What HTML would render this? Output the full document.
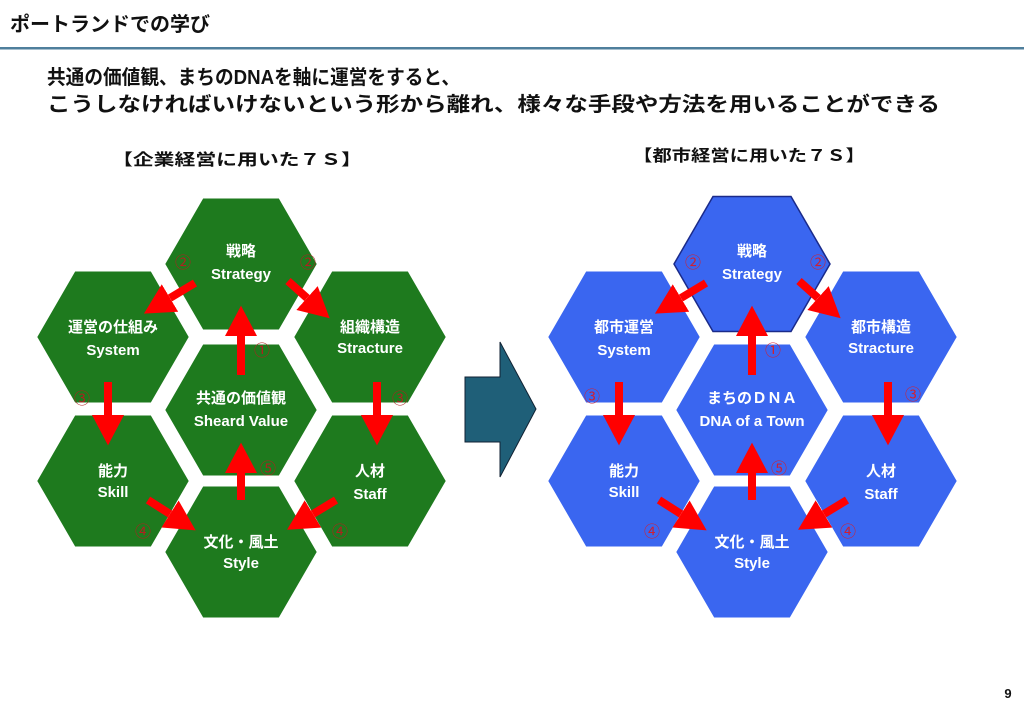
<!DOCTYPE html>
<html><head><meta charset="utf-8"><style>
html,body{margin:0;padding:0;background:#fff;}
svg{display:block;font-family:"Liberation Sans","Noto Sans CJK JP",sans-serif;}
</style></head><body>
<svg width="1024" height="709" viewBox="0 0 1024 709" xmlns="http://www.w3.org/2000/svg">
<defs>
<marker id="ah" markerWidth="4" markerHeight="4" refX="0" refY="2" orient="auto" markerUnits="strokeWidth">
<path d="M0,0 L3.8,2 L0,4 z" fill="#ff0000"/></marker>
<polygon id="hx" points="-78,0 -39,-67.5 39,-67.5 78,0 39,67.5 -39,67.5"/>
</defs>
<text x="10" y="31" font-size="20" font-weight="bold" fill="#111">ポートランドでの学び</text>
<rect x="0" y="47" width="1024" height="2.5" fill="#4f7f9c"/>
<text x="47" y="84" font-size="20" font-weight="bold" fill="#111" textLength="413" lengthAdjust="spacingAndGlyphs">共通の価値観、まちのDNAを軸に運営をすると、</text>
<text x="47" y="111" font-size="20" font-weight="bold" fill="#111" textLength="893" lengthAdjust="spacingAndGlyphs">こうしなければいけないという形から離れ、様々な手段や方法を用いることができる</text>
<text x="112" y="165" font-size="16" font-weight="bold" fill="#111" textLength="250" lengthAdjust="spacingAndGlyphs">【企業経営に用いた７Ｓ】</text>
<text x="633" y="161" font-size="16" font-weight="bold" fill="#111" textLength="232" lengthAdjust="spacingAndGlyphs">【都市経営に用いた７Ｓ】</text>

<polygon points="465,377 500,377 500,342 536,409 500,477 500,442 465,442" fill="#1f5f78" stroke="#123" stroke-width="1"/>

<g id="left">
<g fill="#1e7a1e" stroke="#fff" stroke-width="4">
<use href="#hx" x="241" y="264"/>
<use href="#hx" x="113" y="337"/>
<use href="#hx" x="370" y="337"/>
<use href="#hx" x="241" y="410"/>
<use href="#hx" x="113" y="481"/>
<use href="#hx" x="370" y="481"/>
<use href="#hx" x="241" y="552"/>
</g>
<g fill="#fff" font-size="15" font-weight="bold" text-anchor="middle">
<text x="241" y="256">戦略</text><text x="241" y="279">Strategy</text>
<text x="113" y="332">運営の仕組み</text><text x="113" y="355">System</text>
<text x="370" y="332">組織構造</text><text x="370" y="353">Stracture</text>
<text x="241" y="403">共通の価値観</text><text x="241" y="426">Sheard Value</text>
<text x="113" y="476">能力</text><text x="113" y="497">Skill</text>
<text x="370" y="476">人材</text><text x="370" y="499">Staff</text>
<text x="241" y="547">文化・風土</text><text x="241" y="568">Style</text>
</g>
<g stroke="#ff0000" stroke-width="8" marker-end="url(#ah)">
<line x1="241" y1="375" x2="241" y2="336"/>
<line x1="195" y1="283" x2="170" y2="298"/>
<line x1="288" y1="281" x2="307" y2="298"/>
<line x1="108" y1="382" x2="108" y2="415"/>
<line x1="377" y1="382" x2="377" y2="415"/>
<line x1="148" y1="500" x2="170" y2="514"/>
<line x1="336" y1="500" x2="313" y2="514"/>
<line x1="241" y1="500" x2="241" y2="473"/>
</g>
<g fill="#b02020" font-size="16" text-anchor="middle">
<text x="183" y="268">②</text><text x="308" y="268">②</text>
<text x="262" y="356">①</text>
<text x="82" y="404">③</text><text x="400" y="404">③</text>
<text x="143" y="537">④</text><text x="340" y="537">④</text>
<text x="268" y="474">⑤</text>
</g>
</g>

<g id="right">
<g fill="#3a66f0" stroke="#fff" stroke-width="4">
<use href="#hx" x="624" y="337"/>
<use href="#hx" x="881" y="337"/>
<use href="#hx" x="752" y="410"/>
<use href="#hx" x="624" y="481"/>
<use href="#hx" x="881" y="481"/>
<use href="#hx" x="752" y="552"/>
</g>
<use href="#hx" x="752" y="264" fill="#3a66f0" stroke="#1a2a8a" stroke-width="1.5"/>
<g fill="#fff" font-size="15" font-weight="bold" text-anchor="middle">
<text x="752" y="256">戦略</text><text x="752" y="279">Strategy</text>
<text x="624" y="332">都市運営</text><text x="624" y="355">System</text>
<text x="881" y="332">都市構造</text><text x="881" y="353">Stracture</text>
<text x="752" y="403">まちのＤＮＡ</text><text x="752" y="426">DNA of a Town</text>
<text x="624" y="476">能力</text><text x="624" y="497">Skill</text>
<text x="881" y="476">人材</text><text x="881" y="499">Staff</text>
<text x="752" y="547">文化・風土</text><text x="752" y="568">Style</text>
</g>
<g stroke="#ff0000" stroke-width="8" marker-end="url(#ah)">
<line x1="752" y1="375" x2="752" y2="336"/>
<line x1="706" y1="283" x2="681" y2="298"/>
<line x1="799" y1="281" x2="818" y2="298"/>
<line x1="619" y1="382" x2="619" y2="415"/>
<line x1="888" y1="382" x2="888" y2="415"/>
<line x1="659" y1="500" x2="681" y2="514"/>
<line x1="847" y1="500" x2="824" y2="514"/>
<line x1="752" y1="500" x2="752" y2="473"/>
</g>
<g fill="#d02030" font-size="16" text-anchor="middle">
<text x="693" y="268">②</text><text x="818" y="268">②</text>
<text x="773" y="356">①</text>
<text x="592" y="402">③</text><text x="913" y="400">③</text>
<text x="652" y="537">④</text><text x="848" y="537">④</text>
<text x="779" y="474">⑤</text>
</g>
</g>

<text x="1008" y="698" font-size="13" font-weight="bold" fill="#111" text-anchor="middle">9</text>
</svg>
</body></html>
